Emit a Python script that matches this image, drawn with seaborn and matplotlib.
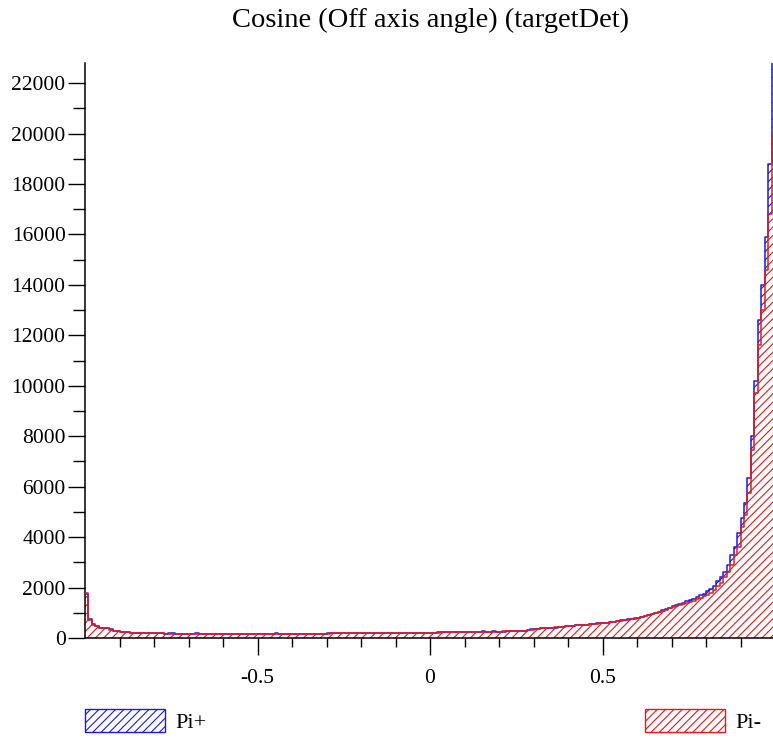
import numpy as np
import pandas as pd
import matplotlib
matplotlib.use("Agg")
import matplotlib.pyplot as plt
from matplotlib.patches import Patch
from matplotlib.ticker import FixedLocator
import seaborn as sns

# ---- data (counts per 0.01-wide bin of cos(off-axis angle), from -1 to 1) ----
n_bins = 200
x_range = (-1.0, 1.0)

pi_plus = [
    1750, 760, 545, 470, 410, 395, 385, 340, 280, 265,
    255, 235, 222, 214, 212, 205, 202, 196, 192, 190,
    186, 184, 181, 177, 196, 198, 172, 171, 170, 170,
    171, 169, 188, 167, 168, 169, 166, 167, 166, 166,
    167, 166, 164, 165, 165, 164, 163, 164, 164, 163,
    166, 164, 165, 165, 166, 190, 166, 167, 167, 168,
    171, 169, 171, 171, 173, 174, 174, 175, 176, 177,
    200, 181, 181, 183, 184, 205, 186, 188, 189, 210,
    191, 191, 194, 194, 196, 196, 199, 199, 201, 201,
    204, 204, 206, 206, 209, 209, 211, 211, 214, 214,
    216, 216, 219, 219, 221, 221, 245, 224, 226, 227,
    231, 231, 255, 234, 238, 262, 243, 244, 270, 251,
    256, 257, 263, 264, 271, 274, 281, 289, 301, 338,
    362, 374, 387, 394, 407, 414, 385, 434, 447, 459,
    477, 489, 502, 509, 522, 529, 542, 549, 600, 582,
    597, 609, 632, 644, 662, 710, 703, 735, 755, 775,
    810, 850, 890, 930, 960, 1000, 1050, 1100, 1150, 1200,
    1250, 1300, 1350, 1400, 1450, 1500, 1560, 1620, 1700, 1750,
    1850, 1950, 2050, 2250, 2400, 2600, 2900, 3300, 3600, 4160,
    4760, 5350, 6340, 8000, 10200, 12600, 14000, 15900, 18800, 23600,
]

pi_minus = [
    1800, 730, 530, 460, 400, 390, 380, 330, 270, 260,
    250, 230, 220, 215, 210, 205, 200, 195, 190, 190,
    185, 185, 180, 175, 175, 172, 170, 172, 168, 170,
    170, 168, 170, 166, 168, 170, 165, 168, 166, 165,
    168, 165, 163, 166, 164, 165, 162, 165, 163, 164,
    165, 163, 166, 164, 165, 167, 165, 168, 166, 168,
    170, 168, 172, 170, 172, 175, 173, 176, 175, 178,
    178, 180, 180, 182, 183, 185, 185, 187, 188, 190,
    190, 192, 193, 195, 195, 197, 198, 200, 200, 202,
    203, 205, 205, 207, 208, 210, 210, 212, 213, 215,
    215, 217, 218, 220, 220, 222, 224, 225, 227, 228,
    230, 232, 233, 235, 237, 240, 242, 245, 248, 250,
    255, 258, 262, 265, 270, 260, 270, 285, 300, 330,
    360, 375, 385, 395, 405, 415, 425, 435, 445, 460,
    475, 490, 500, 510, 520, 530, 540, 550, 565, 580,
    595, 610, 630, 645, 660, 680, 700, 730, 750, 770,
    790, 830, 860, 900, 940, 980, 1020, 1070, 1120, 1170,
    1210, 1250, 1300, 1340, 1380, 1430, 1480, 1550, 1600, 1650,
    1700, 1800, 1900, 2050, 2200, 2400, 2600, 2900, 3300, 3600,
    4400, 4880, 5750, 7450, 9700, 11600, 13000, 14600, 16800, 20000,
]

series_labels = ["Pi+", "Pi-"]
title_text = "Cosine (Off axis angle) (targetDet)"
x_major = [-0.5, 0.0, 0.5]
x_major_labels = ["-0.5", "0", "0.5"]
y_major = list(range(0, 22001, 2000))

edges = np.linspace(x_range[0], x_range[1], n_bins + 1)
centers = 0.5 * (edges[:-1] + edges[1:])
df = pd.DataFrame({
    "cos": np.concatenate([centers, centers]),
    "count": np.concatenate([pi_plus, pi_minus]).astype(float),
    "particle": [series_labels[0]] * n_bins + [series_labels[1]] * n_bins,
})

# ---- style ----
plt.rcParams["font.family"] = ["Liberation Serif", "DejaVu Serif"]
plt.rcParams["hatch.linewidth"] = 0.8

W, H = 773, 740
fig = plt.figure(figsize=(W / 100, H / 100), dpi=100)
ax = fig.add_axes([85 / W, (H - 638) / H, (775 - 85) / W, (638 - 63) / H])

blue = "#1a1ae6"
red = "#e81818"

plus = df[df.particle == "Pi+"]
minus = df[df.particle == "Pi-"]
hkw = dict(x="cos", weights="count", bins=n_bins, binrange=x_range, element="step", ax=ax)

# filled hatched areas
sns.histplot(data=plus, fill=True, facecolor="white", edgecolor=blue, hatch="////",
             linewidth=0, zorder=1, **hkw)
sns.histplot(data=minus, fill=True, facecolor="white", edgecolor=red, hatch="////",
             linewidth=0, zorder=2, **hkw)
# outlines
sns.histplot(data=plus, fill=False, color=blue, linewidth=1.1, zorder=3, **hkw)
sns.histplot(data=minus, fill=False, color=red, linewidth=1.1, zorder=4, **hkw)

ax.set_xlim(*x_range)
ax.set_ylim(0, 22800)
ax.set_xlabel("")
ax.set_ylabel("")

for s in ["top", "right"]:
    ax.spines[s].set_visible(False)
for s in ["left", "bottom"]:
    ax.spines[s].set_linewidth(1.1)
    ax.spines[s].set_color("black")

ax.xaxis.set_major_locator(FixedLocator(x_major))
ax.set_xticklabels(x_major_labels)
ax.xaxis.set_minor_locator(FixedLocator([v / 10 for v in range(-9, 10) if v % 5 != 0]))
ax.yaxis.set_major_locator(FixedLocator(y_major))
ax.set_yticklabels([str(v) for v in y_major])
ax.yaxis.set_minor_locator(FixedLocator(list(range(1000, 22001, 2000))))

ax.tick_params(axis="x", which="major", direction="out", length=12, width=1.0, pad=10, labelsize=15.5)
ax.tick_params(axis="x", which="minor", direction="out", length=6.5, width=1.0)
ax.tick_params(axis="y", which="major", direction="out", length=12, width=1.0, pad=2, labelsize=15.5)
ax.tick_params(axis="y", which="minor", direction="out", length=9, width=1.0)

fig.text(430 / W, 1 - 20 / H, title_text, ha="center", va="center", fontsize=20.5)

h1 = Patch(facecolor="white", edgecolor=blue, hatch="////", linewidth=1.0, label=series_labels[0])
h2 = Patch(facecolor="white", edgecolor=red, hatch="////", linewidth=1.0, label=series_labels[1])
common = dict(frameon=False, fontsize=16, handlelength=3.6, handleheight=1.2,
              handletextpad=0.45, borderpad=0, borderaxespad=0, loc="center left")
fig.legend(handles=[h1], bbox_to_anchor=(85 / W, 1 - 721 / H), **common)
fig.legend(handles=[h2], bbox_to_anchor=(645 / W, 1 - 721 / H), **common)

fig.savefig("out.png", dpi=100)
